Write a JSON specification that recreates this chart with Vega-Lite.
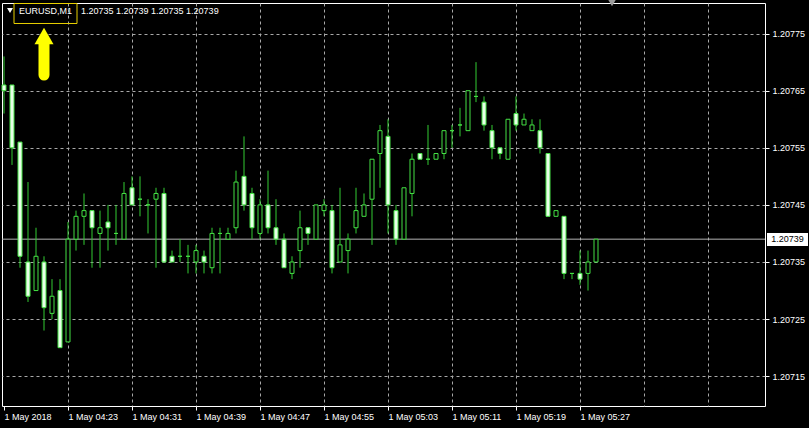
{
  "$schema": "https://vega.github.io/schema/vega-lite/v6.json",
  "width": 763,
  "height": 403,
  "autosize": "none",
  "padding": {"left": 2, "top": 3, "right": 44, "bottom": 22},
  "background": "black",
  "config": {
    "view": {"stroke": "white", "strokeWidth": 1},
    "axis": {"labelFont": "Liberation Sans", "labelFontSize": 9, "labelColor": "white", "domain": false, "gridColor": "#a8a8a8", "gridDash": [3, 3], "gridWidth": 1, "tickColor": "white", "tickSize": 4, "labelOverlap": false, "labelFlush": false, "labelBound": false}
  },
  "datasets": {
    "bars": [
      {"t": "2018-05-01T04:15:00", "o": 1.20766, "h": 1.20771, "l": 1.20761, "c": 1.20765},
      {"t": "2018-05-01T04:16:00", "o": 1.20766, "h": 1.20766, "l": 1.20752, "c": 1.20755},
      {"t": "2018-05-01T04:17:00", "o": 1.20756, "h": 1.20756, "l": 1.20734, "c": 1.20736},
      {"t": "2018-05-01T04:18:00", "o": 1.20735, "h": 1.20749, "l": 1.20728, "c": 1.20729},
      {"t": "2018-05-01T04:19:00", "o": 1.20730, "h": 1.20741, "l": 1.20730, "c": 1.20736},
      {"t": "2018-05-01T04:20:00", "o": 1.20735, "h": 1.20736, "l": 1.20723, "c": 1.20727},
      {"t": "2018-05-01T04:21:00", "o": 1.20726, "h": 1.20732, "l": 1.20725, "c": 1.20729},
      {"t": "2018-05-01T04:22:00", "o": 1.20730, "h": 1.20732, "l": 1.20720, "c": 1.20720},
      {"t": "2018-05-01T04:23:00", "o": 1.20721, "h": 1.20742, "l": 1.20721, "c": 1.20739},
      {"t": "2018-05-01T04:24:00", "o": 1.20739, "h": 1.20744, "l": 1.20737, "c": 1.20743},
      {"t": "2018-05-01T04:25:00", "o": 1.20743, "h": 1.20747, "l": 1.20738, "c": 1.20744},
      {"t": "2018-05-01T04:26:00", "o": 1.20744, "h": 1.20744, "l": 1.20734, "c": 1.20741},
      {"t": "2018-05-01T04:27:00", "o": 1.20740, "h": 1.20744, "l": 1.20734, "c": 1.20741},
      {"t": "2018-05-01T04:28:00", "o": 1.20742, "h": 1.20745, "l": 1.20737, "c": 1.20741},
      {"t": "2018-05-01T04:29:00", "o": 1.20740, "h": 1.20745, "l": 1.20738, "c": 1.20740},
      {"t": "2018-05-01T04:30:00", "o": 1.20739, "h": 1.20749, "l": 1.20739, "c": 1.20747},
      {"t": "2018-05-01T04:31:00", "o": 1.20748, "h": 1.20750, "l": 1.20745, "c": 1.20745},
      {"t": "2018-05-01T04:32:00", "o": 1.20746, "h": 1.20750, "l": 1.20743, "c": 1.20746},
      {"t": "2018-05-01T04:33:00", "o": 1.20745, "h": 1.20746, "l": 1.20740, "c": 1.20745},
      {"t": "2018-05-01T04:34:00", "o": 1.20746, "h": 1.20748, "l": 1.20734, "c": 1.20747},
      {"t": "2018-05-01T04:35:00", "o": 1.20747, "h": 1.20748, "l": 1.20735, "c": 1.20735},
      {"t": "2018-05-01T04:36:00", "o": 1.20736, "h": 1.20737, "l": 1.20735, "c": 1.20735},
      {"t": "2018-05-01T04:37:00", "o": 1.20736, "h": 1.20739, "l": 1.20735, "c": 1.20736},
      {"t": "2018-05-01T04:38:00", "o": 1.20736, "h": 1.20738, "l": 1.20733, "c": 1.20736},
      {"t": "2018-05-01T04:39:00", "o": 1.20735, "h": 1.20738, "l": 1.20733, "c": 1.20737},
      {"t": "2018-05-01T04:40:00", "o": 1.20736, "h": 1.20737, "l": 1.20733, "c": 1.20735},
      {"t": "2018-05-01T04:41:00", "o": 1.20734, "h": 1.20741, "l": 1.20733, "c": 1.20740},
      {"t": "2018-05-01T04:42:00", "o": 1.20740, "h": 1.20741, "l": 1.20733, "c": 1.20740},
      {"t": "2018-05-01T04:43:00", "o": 1.20739, "h": 1.20741, "l": 1.20739, "c": 1.20740},
      {"t": "2018-05-01T04:44:00", "o": 1.20741, "h": 1.20751, "l": 1.20740, "c": 1.20749},
      {"t": "2018-05-01T04:45:00", "o": 1.20750, "h": 1.20757, "l": 1.20744, "c": 1.20745},
      {"t": "2018-05-01T04:46:00", "o": 1.20747, "h": 1.20748, "l": 1.20739, "c": 1.20741},
      {"t": "2018-05-01T04:47:00", "o": 1.20740, "h": 1.20746, "l": 1.20739, "c": 1.20745},
      {"t": "2018-05-01T04:48:00", "o": 1.20745, "h": 1.20751, "l": 1.20740, "c": 1.20741},
      {"t": "2018-05-01T04:49:00", "o": 1.20741, "h": 1.20746, "l": 1.20738, "c": 1.20739},
      {"t": "2018-05-01T04:50:00", "o": 1.20739, "h": 1.20740, "l": 1.20734, "c": 1.20734},
      {"t": "2018-05-01T04:51:00", "o": 1.20733, "h": 1.20736, "l": 1.20732, "c": 1.20735},
      {"t": "2018-05-01T04:52:00", "o": 1.20737, "h": 1.20744, "l": 1.20734, "c": 1.20741},
      {"t": "2018-05-01T04:53:00", "o": 1.20741, "h": 1.20741, "l": 1.20738, "c": 1.20740},
      {"t": "2018-05-01T04:54:00", "o": 1.20739, "h": 1.20745, "l": 1.20739, "c": 1.20745},
      {"t": "2018-05-01T04:55:00", "o": 1.20744, "h": 1.20746, "l": 1.20743, "c": 1.20745},
      {"t": "2018-05-01T04:56:00", "o": 1.20744, "h": 1.20745, "l": 1.20733, "c": 1.20734},
      {"t": "2018-05-01T04:57:00", "o": 1.20735, "h": 1.20748, "l": 1.20735, "c": 1.20738},
      {"t": "2018-05-01T04:58:00", "o": 1.20737, "h": 1.20740, "l": 1.20733, "c": 1.20739},
      {"t": "2018-05-01T04:59:00", "o": 1.20741, "h": 1.20748, "l": 1.20740, "c": 1.20744},
      {"t": "2018-05-01T05:00:00", "o": 1.20743, "h": 1.20747, "l": 1.20743, "c": 1.20745},
      {"t": "2018-05-01T05:01:00", "o": 1.20746, "h": 1.20753, "l": 1.20738, "c": 1.20753},
      {"t": "2018-05-01T05:02:00", "o": 1.20754, "h": 1.20759, "l": 1.20748, "c": 1.20758},
      {"t": "2018-05-01T05:03:00", "o": 1.20757, "h": 1.20760, "l": 1.20740, "c": 1.20745},
      {"t": "2018-05-01T05:04:00", "o": 1.20744, "h": 1.20745, "l": 1.20738, "c": 1.20739},
      {"t": "2018-05-01T05:05:00", "o": 1.20739, "h": 1.20748, "l": 1.20739, "c": 1.20748},
      {"t": "2018-05-01T05:06:00", "o": 1.20747, "h": 1.20754, "l": 1.20743, "c": 1.20753},
      {"t": "2018-05-01T05:07:00", "o": 1.20754, "h": 1.20754, "l": 1.20753, "c": 1.20753},
      {"t": "2018-05-01T05:08:00", "o": 1.20753, "h": 1.20759, "l": 1.20752, "c": 1.20753},
      {"t": "2018-05-01T05:09:00", "o": 1.20753, "h": 1.20754, "l": 1.20753, "c": 1.20754},
      {"t": "2018-05-01T05:10:00", "o": 1.20754, "h": 1.20758, "l": 1.20753, "c": 1.20758},
      {"t": "2018-05-01T05:11:00", "o": 1.20758, "h": 1.20759, "l": 1.20755, "c": 1.20758},
      {"t": "2018-05-01T05:12:00", "o": 1.20759, "h": 1.20762, "l": 1.20757, "c": 1.20759},
      {"t": "2018-05-01T05:13:00", "o": 1.20758, "h": 1.20765, "l": 1.20758, "c": 1.20765},
      {"t": "2018-05-01T05:14:00", "o": 1.20764, "h": 1.20770, "l": 1.20763, "c": 1.20764},
      {"t": "2018-05-01T05:15:00", "o": 1.20763, "h": 1.20764, "l": 1.20758, "c": 1.20759},
      {"t": "2018-05-01T05:16:00", "o": 1.20758, "h": 1.20759, "l": 1.20753, "c": 1.20755},
      {"t": "2018-05-01T05:17:00", "o": 1.20755, "h": 1.20755, "l": 1.20753, "c": 1.20754},
      {"t": "2018-05-01T05:18:00", "o": 1.20753, "h": 1.20760, "l": 1.20753, "c": 1.20760},
      {"t": "2018-05-01T05:19:00", "o": 1.20761, "h": 1.20764, "l": 1.20758, "c": 1.20759},
      {"t": "2018-05-01T05:20:00", "o": 1.20759, "h": 1.20761, "l": 1.20759, "c": 1.20760},
      {"t": "2018-05-01T05:21:00", "o": 1.20758, "h": 1.20760, "l": 1.20758, "c": 1.20759},
      {"t": "2018-05-01T05:22:00", "o": 1.20758, "h": 1.20760, "l": 1.20754, "c": 1.20755},
      {"t": "2018-05-01T05:23:00", "o": 1.20754, "h": 1.20754, "l": 1.20743, "c": 1.20743},
      {"t": "2018-05-01T05:24:00", "o": 1.20743, "h": 1.20744, "l": 1.20743, "c": 1.20744},
      {"t": "2018-05-01T05:25:00", "o": 1.20743, "h": 1.20743, "l": 1.20732, "c": 1.20733},
      {"t": "2018-05-01T05:26:00", "o": 1.20733, "h": 1.20733, "l": 1.20732, "c": 1.20733},
      {"t": "2018-05-01T05:27:00", "o": 1.20733, "h": 1.20737, "l": 1.20731, "c": 1.20732},
      {"t": "2018-05-01T05:28:00", "o": 1.20733, "h": 1.20737, "l": 1.20730, "c": 1.20735},
      {"t": "2018-05-01T05:29:00", "o": 1.20735, "h": 1.20739, "l": 1.20735, "c": 1.20739}
    ]
  },
  "layer": [
    {
      "data": {"values": [{"p": 1.20739}]},
      "mark": {"type": "rule", "color": "#b4b4b4", "strokeWidth": 1},
      "encoding": {
        "y": {
          "field": "p", "type": "quantitative", "title": null,
          "scale": {"domain": [1.2070978, 1.2078036], "nice": false, "zero": false},
          "axis": {
            "orient": "right",
            "values": [1.20715, 1.20725, 1.20735, 1.20745, 1.20755, 1.20765, 1.20775],
            "format": ".5f",
            "grid": true,
            "labelPadding": 3,
            "labelAlign": "left",
            "labelBaseline": "middle"
          }
        }
      }
    },
    {
      "data": {"name": "bars"},
      "mark": {"type": "rule", "color": "#33cc33", "strokeWidth": 1},
      "encoding": {
        "x": {
          "field": "t", "type": "temporal", "title": null,
          "scale": {"domain": [{"year": 2018, "month": 5, "date": 1, "hours": 4, "minutes": 14, "seconds": 45}, {"year": 2018, "month": 5, "date": 1, "hours": 5, "minutes": 50, "seconds": 7, "milliseconds": 500}], "nice": false, "padding": 0},
          "axis": {
            "values": [
              {"year": 2018, "month": 5, "date": 1, "hours": 4, "minutes": 15},
              {"year": 2018, "month": 5, "date": 1, "hours": 4, "minutes": 19},
              {"year": 2018, "month": 5, "date": 1, "hours": 4, "minutes": 23},
              {"year": 2018, "month": 5, "date": 1, "hours": 4, "minutes": 27},
              {"year": 2018, "month": 5, "date": 1, "hours": 4, "minutes": 31},
              {"year": 2018, "month": 5, "date": 1, "hours": 4, "minutes": 35},
              {"year": 2018, "month": 5, "date": 1, "hours": 4, "minutes": 39},
              {"year": 2018, "month": 5, "date": 1, "hours": 4, "minutes": 43},
              {"year": 2018, "month": 5, "date": 1, "hours": 4, "minutes": 47},
              {"year": 2018, "month": 5, "date": 1, "hours": 4, "minutes": 51},
              {"year": 2018, "month": 5, "date": 1, "hours": 4, "minutes": 55},
              {"year": 2018, "month": 5, "date": 1, "hours": 4, "minutes": 59},
              {"year": 2018, "month": 5, "date": 1, "hours": 5, "minutes": 3},
              {"year": 2018, "month": 5, "date": 1, "hours": 5, "minutes": 7},
              {"year": 2018, "month": 5, "date": 1, "hours": 5, "minutes": 11},
              {"year": 2018, "month": 5, "date": 1, "hours": 5, "minutes": 15},
              {"year": 2018, "month": 5, "date": 1, "hours": 5, "minutes": 19},
              {"year": 2018, "month": 5, "date": 1, "hours": 5, "minutes": 23},
              {"year": 2018, "month": 5, "date": 1, "hours": 5, "minutes": 27},
              {"year": 2018, "month": 5, "date": 1, "hours": 5, "minutes": 31},
              {"year": 2018, "month": 5, "date": 1, "hours": 5, "minutes": 35},
              {"year": 2018, "month": 5, "date": 1, "hours": 5, "minutes": 39},
              {"year": 2018, "month": 5, "date": 1, "hours": 5, "minutes": 43},
              {"year": 2018, "month": 5, "date": 1, "hours": 5, "minutes": 47}
            ],
            "grid": true,
            "gridColor": {"condition": {"test": "hours(datum.value) == 4 && minutes(datum.value) == 15", "value": "transparent"}, "value": "#a8a8a8"},
            "tickColor": {"condition": {"test": "(hours(datum.value) * 60 + minutes(datum.value) - 255) % 8 == 0 && hours(datum.value) * 60 + minutes(datum.value) <= 327", "value": "white"}, "value": "transparent"},
            "labelExpr": "hours(datum.value) == 4 && minutes(datum.value) == 15 ? '1 May 2018' : (((hours(datum.value) * 60 + minutes(datum.value) - 255) % 8 == 0 && hours(datum.value) * 60 + minutes(datum.value) <= 327) ? timeFormat(datum.value, '%-d %b %H:%M') : '')",
            "labelAlign": "left",
            "labelBaseline": "top",
            "labelPadding": 2,
            "tickSize": 4
          }
        },
        "y": {"field": "l", "type": "quantitative", "title": null},
        "y2": {"field": "h"}
      }
    },
    {
      "data": {"name": "bars"},
      "mark": {"type": "bar", "size": 4, "stroke": "#44e044", "strokeWidth": 1},
      "encoding": {
        "x": {"field": "t", "type": "temporal", "title": null},
        "y": {"field": "o", "type": "quantitative", "title": null},
        "y2": {"field": "c"},
        "fill": {"condition": {"test": "datum.c < datum.o", "value": "#e8ffe8"}, "value": "black"}
      }
    },
    {
      "data": {"values": [{}]},
      "mark": {"type": "rule", "color": "#ffff00", "strokeWidth": 11, "strokeCap": "round"},
      "encoding": {
        "x": {"datum": {"year": 2018, "month": 5, "date": 1, "hours": 4, "minutes": 20}, "type": "temporal"},
        "y": {"datum": 1.2077318, "type": "quantitative"},
        "y2": {"datum": 1.2076775}
      }
    },
    {
      "data": {"values": [{}]},
      "mark": {"type": "point", "shape": "triangle-up", "filled": true, "color": "#ffff00", "size": 361, "opacity": 1},
      "encoding": {
        "x": {"datum": {"year": 2018, "month": 5, "date": 1, "hours": 4, "minutes": 20}, "type": "temporal"},
        "y": {"datum": 1.2077458, "type": "quantitative"}
      }
    },
    {
      "data": {"values": [{}]},
      "mark": {"type": "point", "shape": "triangle-down", "filled": true, "color": "white", "size": 36, "opacity": 1},
      "encoding": {
        "x": {"datum": {"year": 2018, "month": 5, "date": 1, "hours": 4, "minutes": 15, "seconds": 45}, "type": "temporal"},
        "y": {"datum": 1.2077905, "type": "quantitative"}
      }
    },
    {
      "data": {"values": [{}]},
      "mark": {"type": "point", "shape": "triangle-down", "filled": true, "color": "#9a9a9a", "size": 100, "opacity": 1},
      "encoding": {
        "x": {"datum": {"year": 2018, "month": 5, "date": 1, "hours": 5, "minutes": 31}, "type": "temporal"},
        "y": {"datum": 1.2078053, "type": "quantitative"}
      }
    },
    {
      "data": {"values": [{}]},
      "mark": {"type": "rect", "fill": null, "stroke": "#e8d000", "strokeWidth": 1},
      "encoding": {
        "x": {"datum": {"year": 2018, "month": 5, "date": 1, "hours": 4, "minutes": 16, "seconds": 15}, "type": "temporal"},
        "x2": {"datum": {"year": 2018, "month": 5, "date": 1, "hours": 4, "minutes": 24, "seconds": 7, "milliseconds": 500}},
        "y": {"datum": 1.2078027, "type": "quantitative"},
        "y2": {"datum": 1.2077677}
      }
    },
    {
      "data": {"values": [{}]},
      "mark": {"type": "text", "text": "EURUSD,M1", "color": "white", "font": "Liberation Sans", "fontSize": 9, "align": "left", "baseline": "middle"},
      "encoding": {
        "x": {"datum": {"year": 2018, "month": 5, "date": 1, "hours": 4, "minutes": 16, "seconds": 52, "milliseconds": 500}, "type": "temporal"},
        "y": {"datum": 1.2077896, "type": "quantitative"}
      }
    },
    {
      "data": {"values": [{}]},
      "mark": {"type": "text", "text": "1.20735 1.20739 1.20735 1.20739", "color": "white", "font": "Liberation Sans", "fontSize": 9, "align": "left", "baseline": "middle"},
      "encoding": {
        "x": {"datum": {"year": 2018, "month": 5, "date": 1, "hours": 4, "minutes": 24, "seconds": 37, "milliseconds": 500}, "type": "temporal"},
        "y": {"datum": 1.2077896, "type": "quantitative"}
      }
    },
    {
      "data": {"values": [{}]},
      "mark": {"type": "rect", "fill": "white"},
      "encoding": {
        "x": {"datum": {"year": 2018, "month": 5, "date": 1, "hours": 5, "minutes": 50, "seconds": 22, "milliseconds": 500}, "type": "temporal"},
        "x2": {"datum": {"year": 2018, "month": 5, "date": 1, "hours": 5, "minutes": 55, "seconds": 30}},
        "y": {"datum": 1.2074008, "type": "quantitative"},
        "y2": {"datum": 1.207378}
      }
    },
    {
      "data": {"values": [{}]},
      "mark": {"type": "text", "text": "1.20739", "color": "black", "font": "Liberation Sans", "fontSize": 9, "align": "center", "baseline": "middle"},
      "encoding": {
        "x": {"datum": {"year": 2018, "month": 5, "date": 1, "hours": 5, "minutes": 52, "seconds": 56}, "type": "temporal"},
        "y": {"datum": 1.20739, "type": "quantitative"}
      }
    }
  ]
}
